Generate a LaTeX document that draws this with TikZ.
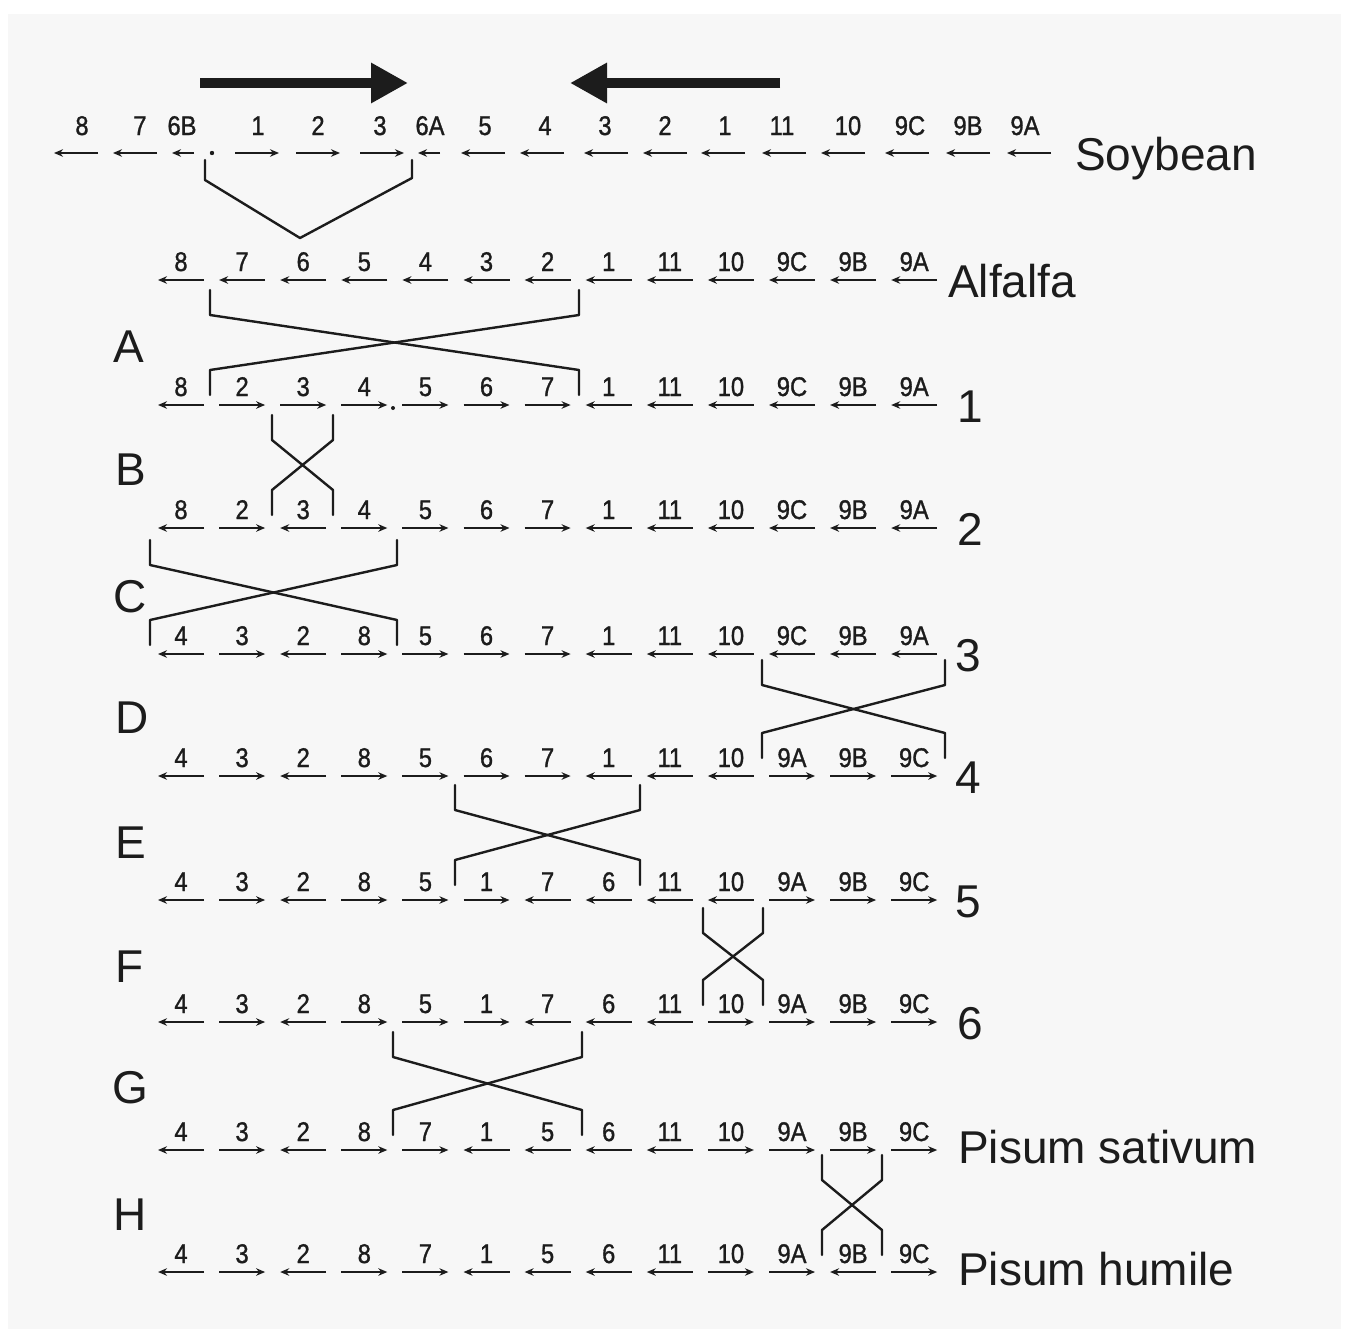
\documentclass[tikz,border=0pt]{standalone}
\usepackage{fontspec}
\setmainfont{Liberation Sans}
\newfontfamily\genefont[FakeBold=1.2]{Liberation Sans}
\usetikzlibrary{arrows.meta,calc}
\definecolor{ink}{HTML}{1C1C1C}
\definecolor{panel}{HTML}{F7F7F7}
\newcommand{\generow}[3]{%
  \foreach \lab/\d [count=\i from 0] in {#3} {
    \pgfmathsetmacro{\cx}{181+61.1*\i}
    \pgfmathsetmacro{\hx}{23*(\d)}
    \coordinate (#1-a\i) at ({\cx-\hx},#2);
    \coordinate (#1-b\i) at ({\cx+\hx},#2);
    \draw[genearr] (#1-a\i) -- (#1-b\i);
    \node[glab] (#1-\i) at (\cx,#2-9) {\lab};
  }}
\newcommand{\xover}[5]{% name, xl, xr, ytop, ybot
  \coordinate (#1-tl) at (#2,#4); \coordinate (#1-tr) at (#3,#4);
  \coordinate (#1-bl) at (#2,#5); \coordinate (#1-br) at (#3,#5);
  \draw[bracket] (#1-tl) -- ++(0,25) -- ($(#1-br)+(0,-25)$) -- (#1-br);
  \draw[bracket] (#1-tr) -- ++(0,25) -- ($(#1-bl)+(0,-25)$) -- (#1-bl);
}
\begin{document}
\begin{tikzpicture}[x=1pt,y=-1pt,
  genearr/.style={line width=2pt, draw=ink, -{Stealth[length=9pt,width=7.5pt]}},
  glab/.style={font=\genefont\fontsize{27}{30}\selectfont, anchor=base, inner sep=0pt, text=ink, xscale=0.88},
  bigtxt/.style={font=\fontsize{46}{50}\selectfont, anchor=base west, inner sep=0pt, text=ink},
  rownum/.style={font=\fontsize{46}{50}\selectfont, anchor=base, inner sep=0pt, text=ink},
  bracket/.style={line width=2.4pt, draw=ink, line join=round, line cap=round},
  bigarrow/.style={line width=10pt, draw=ink, -{Triangle[length=37pt,width=38pt]}}]
\useasboundingbox (0,0) rectangle (1346,1333);
\fill[white] (0,0) rectangle (1346,1333);
\fill[panel] (8,14) rectangle (1341,1329);

% big direction arrows
\coordinate (ra0) at (200,83); \coordinate (ra1) at (408,83);
\coordinate (la0) at (780,83); \coordinate (la1) at (570,83);
\draw[bigarrow] (ra0) -- (ra1);
\draw[bigarrow] (la0) -- (la1);

% soybean row
\foreach \cx/\lx/\lab/\d/\h [count=\i] in {76/82/8/-1/22,135/140/7/-1/22,183/182/6B/-1/11,257/258/1/1/22,318/318/2/1/22,382/380/3/1/22,429/430/6A/-1/11,483/485/5/-1/22,542/545/4/-1/22,606/605/3/-1/22,665/665/2/-1/22,723/725/1/-1/22,784/782/11/-1/22,843/848/10/-1/22,907/910/9C/-1/22,968/968/9B/-1/22,1029/1025/9A/-1/22} {
  \pgfmathsetmacro{\hx}{\h*(\d)}
  \coordinate (sb-a\i) at ({\cx-\hx},153);
  \coordinate (sb-b\i) at ({\cx+\hx},153);
  \draw[genearr] (sb-a\i) -- (sb-b\i);
  \node[glab] (sb-\i) at (\lx,135) {\lab};
}
\fill[ink] (212,153) circle (2.2pt);
\node[bigtxt] (soy) at (1075,170) {Soybean};

% soybean -> alfalfa fusion
\coordinate (v1) at (205,160); \coordinate (v2) at (412,160); \coordinate (vapex) at (300,238);
\draw[bracket] (v1) -- ++(0,20) -- (vapex) -- ($(v2)+(0,18)$) -- (v2);

% rows
\generow{alf}{280}{8/-1,7/-1,6/-1,5/-1,4/-1,3/-1,2/-1,1/-1,11/-1,10/-1,9C/-1,9B/-1,9A/-1}
\node[bigtxt] (alfalfa) at (948,297) {Alfalfa};

\generow{r1}{405}{8/-1,2/1,3/1,4/1,5/1,6/1,7/1,1/-1,11/-1,10/-1,9C/-1,9B/-1,9A/-1}
\fill[ink] (393,408) circle (2pt);
\node[rownum] (n1) at (970,422) {1};

\generow{r2}{528}{8/-1,2/1,3/-1,4/1,5/1,6/1,7/1,1/-1,11/-1,10/-1,9C/-1,9B/-1,9A/-1}
\node[rownum] (n2) at (970,545) {2};

\generow{r3}{654}{4/-1,3/1,2/-1,8/1,5/1,6/1,7/1,1/-1,11/-1,10/-1,9C/-1,9B/-1,9A/-1}
\node[rownum] (n3) at (968,671) {3};

\generow{r4}{776}{4/-1,3/1,2/-1,8/1,5/1,6/1,7/1,1/-1,11/-1,10/-1,9A/1,9B/1,9C/1}
\node[rownum] (n4) at (968,793) {4};

\generow{r5}{900}{4/-1,3/1,2/-1,8/1,5/1,1/1,7/-1,6/-1,11/-1,10/-1,9A/1,9B/1,9C/1}
\node[rownum] (n5) at (968,917) {5};

\generow{r6}{1022}{4/-1,3/1,2/-1,8/1,5/1,1/1,7/-1,6/-1,11/-1,10/1,9A/1,9B/1,9C/1}
\node[rownum] (n6) at (970,1039) {6};

\generow{ps}{1150}{4/-1,3/1,2/-1,8/1,7/1,1/-1,5/-1,6/-1,11/-1,10/1,9A/1,9B/1,9C/1}
\node[bigtxt] (sativum) at (958,1163) {Pisum sativum};

\generow{ph}{1272}{4/-1,3/1,2/-1,8/1,7/1,1/-1,5/-1,6/-1,11/-1,10/1,9A/1,9B/-1,9C/1}
\node[bigtxt] (humile) at (958,1285) {Pisum humile};

% inversions
\xover{A}{210}{579}{290}{395}
\xover{B}{272}{333}{415}{515}
\xover{C}{150}{397}{540}{645}
\xover{D}{762}{945}{660}{758}
\xover{E}{455}{640}{785}{885}
\xover{F}{703}{763}{908}{1005}
\xover{G}{393}{582}{1032}{1135}
\xover{H}{822}{882}{1155}{1255}

% step letters
\node[bigtxt] (lA) at (113,362) {A};
\node[bigtxt] (lB) at (115,485) {B};
\node[bigtxt] (lC) at (113,612) {C};
\node[bigtxt] (lD) at (115,733) {D};
\node[bigtxt] (lE) at (115,858) {E};
\node[bigtxt] (lF) at (115,982) {F};
\node[bigtxt] (lG) at (112,1103) {G};
\node[bigtxt] (lH) at (113,1230) {H};
\end{tikzpicture}
\end{document}
